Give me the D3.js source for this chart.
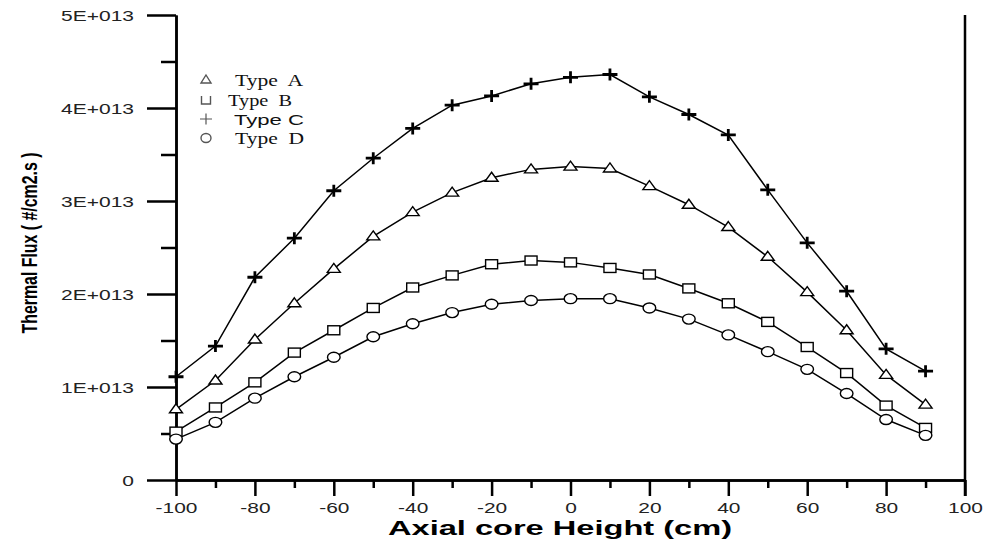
<!DOCTYPE html>
<html>
<head>
<meta charset="utf-8">
<script src="https://cdn.jsdelivr.net/npm/d3@7"></script>
<style>
  html, body { margin: 0; padding: 0; background: #fff; }
  svg { display: block; }
  .axis path, .axis line { stroke: #000; stroke-width: 2.5; }
  .axis text { font-family: Arial, "Liberation Sans", sans-serif; fill: #222; }
  .curve { fill: none; stroke: #000; stroke-width: 1.5; }
  .mark { fill: #fff; stroke: #000; stroke-width: 1.4; }
  .legend text { white-space: pre; }
</style>
</head>
<body>
<script>
(function () {

  // Axial positions (cm)
  let heights = [-100, -90, -80, -70, -60, -50, -40, -30, -20, -10,
                 0, 10, 20, 30, 40, 50, 60, 70, 80, 90];

  // Thermal flux, in units of 1E+013 #/cm2.s
  let typeA = [0.76, 1.07, 1.51, 1.90, 2.27, 2.62, 2.88, 3.09, 3.25, 3.34,
               3.37, 3.35, 3.16, 2.96, 2.72, 2.40, 2.02, 1.61, 1.13, 0.81];
  let typeB = [0.52, 0.78, 1.05, 1.37, 1.61, 1.85, 2.07, 2.20, 2.32, 2.36,
               2.34, 2.28, 2.21, 2.06, 1.90, 1.70, 1.43, 1.15, 0.80, 0.56];
  let typeC = [1.11, 1.44, 2.18, 2.60, 3.11, 3.46, 3.78, 4.03, 4.13, 4.26,
               4.33, 4.36, 4.12, 3.93, 3.71, 3.12, 2.55, 2.03, 1.41, 1.17];
  let typeD = [0.44, 0.62, 0.88, 1.11, 1.32, 1.54, 1.68, 1.80, 1.89, 1.93,
               1.95, 1.95, 1.85, 1.73, 1.56, 1.38, 1.19, 0.93, 0.65, 0.48];

  let seriesNames = ['Type  A', 'Type  B', 'Type C', 'Type  D'];
  let seriesMarks = ['triangle', 'square', 'plus', 'circle'];

  let xTicks = [-100, -80, -60, -40, -20, 0, 20, 40, 60, 80, 100];
  let yTicks = [0, 1e13, 2e13, 3e13, 4e13, 5e13];
  let yTickLabels = ['0', '1E+013', '2E+013', '3E+013', '4E+013', '5E+013'];

  function go() {

    let width  = 990;
    let height = 544;

    // plot box edges
    let left = 176, right = 965, top = 15, bottom = 480;

    let x = d3.scaleLinear().domain([-100, 100]).range([left, right]);
    let y = d3.scaleLinear().domain([0, 5e13]).range([bottom, top]);

    let svg = d3.select('body').append('svg')
        .attr('width', width)
        .attr('height', height)
        .attr('viewBox', '0 0 ' + width + ' ' + height);

    // ---- axes ----
    let yMinor = d3.range(0.5e13, 5e13, 1e13);
    svg.append('g').attr('class', 'axis')
      .attr('transform', 'translate(' + left + ',0)')
      .call(d3.axisLeft(y).tickValues(yMinor).tickSize(15).tickSizeOuter(0).tickFormat(''));

    let yAxis = svg.append('g').attr('class', 'axis')
      .attr('transform', 'translate(' + left + ',0)')
      .call(d3.axisLeft(y).tickValues(yTicks).tickSize(29).tickSizeOuter(0)
        .tickFormat((d, i) => yTickLabels[i]));

    // the source program stretches its text sideways
    yAxis.selectAll('text')
      .attr('x', 0).attr('dy', null).attr('y', 0)
      .attr('font-size', 14)
      .attr('text-anchor', 'end')
      .attr('transform', 'translate(-42,5) scale(1.5,1)');

    let xMinor = d3.range(-90, 100, 20);
    svg.append('g').attr('class', 'axis')
      .attr('transform', 'translate(0,' + bottom + ')')
      .call(d3.axisBottom(x).tickValues(xMinor).tickSize(8).tickSizeOuter(0).tickFormat(''));

    let xAxis = svg.append('g').attr('class', 'axis')
      .attr('transform', 'translate(0,' + bottom + ')')
      .call(d3.axisBottom(x).tickValues(xTicks).tickSize(16).tickSizeOuter(0).tickFormat(d => d));

    xAxis.selectAll('text')
      .attr('y', 0).attr('dy', null)
      .attr('font-size', 15.5)
      .attr('text-anchor', 'middle')
      .attr('transform', 'translate(0,33) scale(1.35,1)');

    // right frame line
    svg.append('line')
      .attr('x1', right).attr('x2', right)
      .attr('y1', top).attr('y2', bottom + 16)
      .attr('stroke', '#000').attr('stroke-width', 2.5);

    // ---- titles ----
    svg.append('text')
      .attr('x', 560).attr('y', 535)
      .attr('text-anchor', 'middle')
      .attr('font-family', 'Arial, "Liberation Sans", sans-serif')
      .attr('font-weight', 'bold')
      .attr('font-size', 19.5)
      .attr('textLength', 344)
      .attr('lengthAdjust', 'spacingAndGlyphs')
      .text('Axial core Height (cm)');

    svg.append('text')
      .attr('transform', 'translate(37,243) rotate(-90)')
      .attr('text-anchor', 'middle')
      .attr('font-family', '"Liberation Sans Narrow", Arial, "Liberation Sans", sans-serif')
      .attr('font-weight', 'bold')
      .attr('font-size', 22.5)
      .attr('textLength', 181)
      .attr('lengthAdjust', 'spacingAndGlyphs')
      .text('Thermal Flux ( #/cm2.s )');

    // ---- markers ----
    function drawMark(g, kind, big) {
      if (kind == 'triangle') {
        let w = big ? 6.5 : 5, h = big ? 4.5 : 4;
        g.append('path').attr('d', 'M0,' + (-h - 1) + 'L' + w + ',' + (h - 1) + 'L' + (-w) + ',' + (h - 1) + 'Z');
      } else if (kind == 'square') {
        if (big) g.append('rect').attr('x', -6).attr('y', -4.5).attr('width', 12).attr('height', 9);
        else g.append('path').attr('d', 'M-4.5,-4V4H4.5V-4');
      } else if (kind == 'plus') {
        let w = big ? 7.5 : 6, h = big ? 6 : 5.5;
        g.append('path').attr('d', 'M' + (-w) + ',0H' + w + 'M0,' + (-h) + 'V' + h)
          .style('stroke-width', big ? 2.8 : 1.2);
      } else {
        g.append('ellipse').attr('rx', big ? 6.3 : 5).attr('ry', big ? 5 : 4.5);
      }
    }

    let series = [typeA, typeB, typeC, typeD];
    let line = d3.line()
        .x((d, i) => x(heights[i]))
        .y(d => y(d * 1e13));

    series.forEach(function (vals, s) {
      svg.append('path').attr('class', 'curve').attr('d', line(vals));
    });

    series.forEach(function (vals, s) {
      svg.append('g').selectAll('g.mark').data(vals)
        .enter().append('g')
        .attr('class', 'mark')
        .attr('transform', (d, i) => 'translate(' + x(heights[i]) + ',' + y(d * 1e13) + ')')
        .each(function () { drawMark(d3.select(this), seriesMarks[s], true); });
    });

    // ---- legend ----
    let legend = svg.append('g').attr('class', 'legend');
    let legendY = [80, 100, 119, 138];
    let legendTextX = [235, 228, 234, 235];
    let legendTextW = [68, 64, 70, 69];

    seriesNames.forEach(function (name, i) {
      let g = legend.append('g')
          .attr('class', 'mark')
          .attr('transform', 'translate(206,' + legendY[i] + ')')
          .style('stroke', '#555');
      drawMark(g, seriesMarks[i], false);

      let sans = seriesMarks[i] == 'plus';
      legend.append('text')
        .attr('x', legendTextX[i])
        .attr('y', legendY[i] + 5.5)
        .attr('font-family', sans ? 'Arial, "Liberation Sans", sans-serif' : '"Times New Roman", "Liberation Serif", serif')
        .attr('font-size', sans ? 14 : 16)
        .attr('textLength', legendTextW[i])
        .attr('lengthAdjust', 'spacingAndGlyphs')
        .attr('fill', '#111')
        .text(name);
    });
  }

  document.addEventListener("DOMContentLoaded", go);

})();
</script>
</body>
</html>
